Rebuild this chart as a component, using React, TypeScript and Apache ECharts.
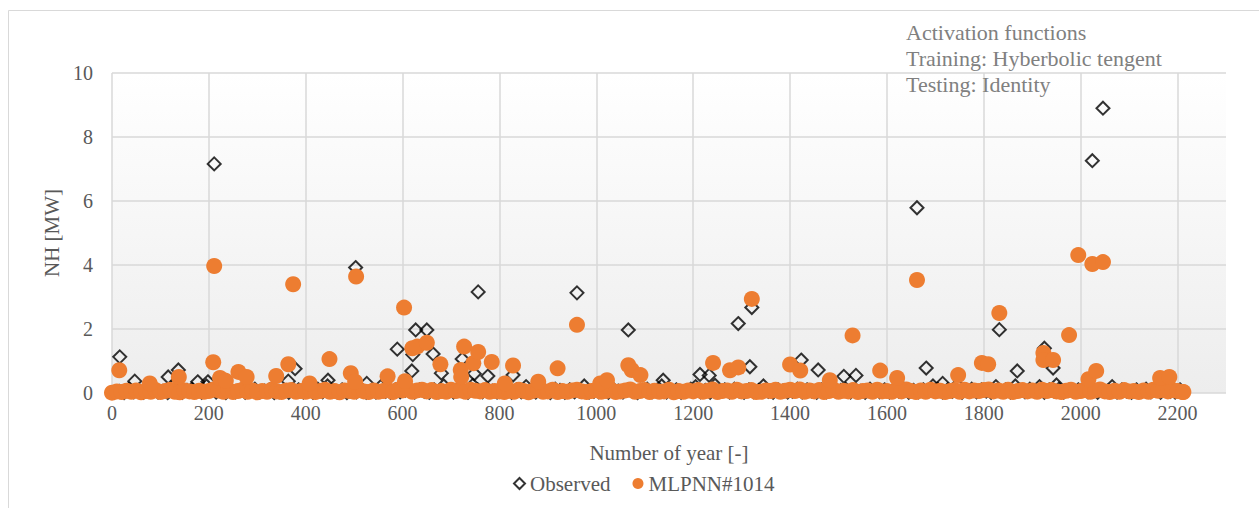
import React, { useEffect, useRef } from "react";
import * as echarts from "echarts";

// x-axis ticks (years) and y-axis ticks (MW)
const xTicks = [0, 200, 400, 600, 800, 1000, 1200, 1400, 1600, 1800, 2000, 2200];
const yTicks = [0, 2, 4, 6, 8, 10];

// Near-zero band of observed values (one every 10 years, starting at year 5)
const observedBase = [
  0.02, 0.05, 0.01, 0.12, 0.04, 0.08, 0.02, 0.06, 0.1, 0.03, 0.05, 0.01, 0.2, 0.04, 0.02, 0.08, 0.12, 0.05, 0.02, 0.22,
  0.1, 0.03, 0.06, 0.01, 0.1, 0.04, 0.08, 0.02, 0.05, 0.12, 0.03, 0.06, 0.1, 0.01, 0.04, 0.08, 0.02, 0.05, 0.1, 0.03,
  0.06, 0.02, 0.12, 0.04, 0.22, 0.05, 0.03, 0.1, 0.01, 0.08, 0.04, 0.12, 0.02, 0.06, 0.03, 0.2, 0.05, 0.02, 0.1, 0.04,
  0.08, 0.12, 0.03, 0.1, 0.05, 0.02, 0.1, 0.04, 0.22, 0.06, 0.03, 0.12, 0.05, 0.02, 0.24, 0.1, 0.04, 0.12, 0.06, 0.03,
  0.05, 0.12, 0.02, 0.1, 0.04, 0.2, 0.06, 0.03, 0.1, 0.05, 0.01, 0.12, 0.08, 0.02, 0.1, 0.04, 0.06, 0.22, 0.03, 0.05,
  0.04, 0.1, 0.02, 0.12, 0.06, 0.03, 0.1, 0.05, 0.01, 0.08, 0.12, 0.04, 0.08, 0.22, 0.03, 0.06, 0.1, 0.02, 0.05, 0.12,
  0.2, 0.04, 0.08, 0.02, 0.24, 0.05, 0.1, 0.03, 0.12, 0.06, 0.02, 0.1, 0.04, 0.08, 0.22, 0.05, 0.02, 0.1, 0.06, 0.03,
  0.05, 0.12, 0.03, 0.1, 0.06, 0.02, 0.1, 0.04, 0.2, 0.05, 0.08, 0.12, 0.03, 0.1, 0.05, 0.02, 0.12, 0.06, 0.04, 0.1,
  0.03, 0.1, 0.05, 0.12, 0.02, 0.08, 0.04, 0.1, 0.06, 0.22, 0.12, 0.03, 0.1, 0.05, 0.24, 0.02, 0.08, 0.12, 0.04, 0.1,
  0.06, 0.02, 0.2, 0.05, 0.1, 0.03, 0.22, 0.08, 0.04, 0.12, 0.05, 0.2, 0.02, 0.1, 0.06, 0.12, 0.03, 0.08, 0.05, 0.1,
  0.12, 0.04, 0.1, 0.02, 0.08, 0.05, 0.2, 0.03, 0.1, 0.06, 0.02, 0.1, 0.05, 0.12, 0.04, 0.08, 0.02, 0.1, 0.05, 0.03,
  0.1,
];

// Observed values that stand out of the band: [year, NH]
const observedPeaks: [number, number][] = [
  [16, 1.13], [47, 0.37], [116, 0.5], [137, 0.72], [177, 0.35], [198, 0.35], [211, 7.16],
  [364, 0.37], [378, 0.76], [446, 0.4], [503, 3.92], [526, 0.3], [589, 1.37], [619, 0.69],
  [621, 1.2], [627, 1.97], [650, 1.97], [663, 1.22], [680, 0.62], [723, 1.06], [748, 0.6],
  [756, 3.16], [776, 0.53], [828, 0.56], [960, 3.13], [1066, 1.97], [1138, 0.4], [1214, 0.58],
  [1233, 0.55], [1293, 2.17], [1317, 0.82], [1321, 2.67], [1423, 1.03], [1458, 0.72],
  [1511, 0.52], [1536, 0.55], [1662, 5.79], [1681, 0.78], [1715, 0.3], [1832, 1.98],
  [1869, 0.69], [1925, 1.4], [1943, 0.78], [1950, 0.25], [2024, 7.26], [2046, 8.9],
];

// Near-zero band of predicted values (one every 10 years, starting at year 0)
const predictedBase = [
  0.01, 0.05, 0.03, 0.07, 0.04, 0.08, 0.02, 0.06, 0.04, 0.09, 0.03, 0.06, 0.1, 0.04, 0.02, 0.08, 0.05, 0.03, 0.07, 0.04,
  0.06, 0.11, 0.08, 0.04, 0.09, 0.03, 0.06, 0.1, 0.04, 0.08, 0.02, 0.06, 0.04, 0.1, 0.05, 0.03, 0.08, 0.09, 0.04, 0.06,
  0.04, 0.08, 0.03, 0.06, 0.1, 0.04, 0.06, 0.02, 0.08, 0.06, 0.04, 0.1, 0.05, 0.03, 0.08, 0.04, 0.06, 0.09, 0.03, 0.1,
  0.08, 0.12, 0.04, 0.08, 0.1, 0.05, 0.09, 0.03, 0.06, 0.04, 0.1, 0.06, 0.08, 0.04, 0.1, 0.07, 0.05, 0.09, 0.04, 0.06,
  0.05, 0.03, 0.08, 0.04, 0.1, 0.06, 0.02, 0.07, 0.09, 0.04, 0.05, 0.1, 0.03, 0.06, 0.04, 0.08, 0.1, 0.05, 0.03, 0.06,
  0.09, 0.04, 0.06, 0.1, 0.03, 0.05, 0.08, 0.11, 0.04, 0.06, 0.09, 0.03, 0.07, 0.04, 0.05, 0.1, 0.02, 0.06, 0.04, 0.08,
  0.05, 0.09, 0.04, 0.07, 0.11, 0.03, 0.06, 0.08, 0.04, 0.1, 0.05, 0.06, 0.09, 0.03, 0.04, 0.08, 0.06, 0.1, 0.04, 0.07,
  0.1, 0.06, 0.11, 0.04, 0.08, 0.05, 0.09, 0.03, 0.06, 0.1, 0.04, 0.07, 0.05, 0.09, 0.03, 0.06, 0.08, 0.04, 0.1, 0.05,
  0.06, 0.04, 0.09, 0.05, 0.11, 0.06, 0.03, 0.08, 0.04, 0.1, 0.05, 0.07, 0.03, 0.06, 0.09, 0.04, 0.1, 0.05, 0.08, 0.06,
  0.09, 0.11, 0.05, 0.08, 0.04, 0.1, 0.03, 0.06, 0.09, 0.05, 0.08, 0.04, 0.1, 0.06, 0.09, 0.05, 0.03, 0.07, 0.1, 0.04,
  0.06, 0.09, 0.04, 0.08, 0.11, 0.05, 0.03, 0.07, 0.04, 0.09, 0.05, 0.06, 0.03, 0.08, 0.04, 0.1, 0.07, 0.1, 0.05, 0.09,
  0.06, 0.03,
];

// Predicted values that stand out of the band: [year, NH]
const predictedPeaks: [number, number][] = [
  [15, 0.71], [78, 0.3], [138, 0.5], [209, 0.96], [211, 3.97], [223, 0.47], [235, 0.38],
  [261, 0.66], [278, 0.5], [339, 0.53], [364, 0.9], [374, 3.4], [408, 0.3], [449, 1.06],
  [493, 0.62], [502, 0.35], [504, 3.64], [569, 0.52], [603, 2.67], [605, 0.37], [620, 1.4],
  [630, 1.45], [650, 1.57], [678, 0.9], [720, 0.72], [721, 0.5], [727, 1.45], [746, 0.93],
  [756, 1.28], [784, 0.97], [811, 0.3], [828, 0.86], [880, 0.35], [920, 0.77], [960, 2.13],
  [1008, 0.3], [1022, 0.4], [1066, 0.87], [1073, 0.72], [1091, 0.56], [1241, 0.94],
  [1276, 0.71], [1293, 0.8], [1321, 2.94], [1400, 0.89], [1421, 0.7], [1482, 0.4],
  [1529, 1.8], [1586, 0.7], [1621, 0.47], [1662, 3.53], [1747, 0.56], [1796, 0.94],
  [1809, 0.9], [1832, 2.5], [1923, 1.25], [1923, 1.03], [1943, 1.03], [1976, 1.81],
  [1995, 4.31], [2016, 0.43], [2024, 4.03], [2032, 0.69], [2046, 4.09], [2164, 0.47],
  [2183, 0.5], [2212, 0.03],
];

const seriesNames = ["Observed", "MLPNN#1014"];
const annotationLines = ["Activation functions", "Training: Hyberbolic tengent", "Testing: Identity"];
const xTitle = "Number of year [-]";
const yTitle = "NH [MW]";

const FONT = "Liberation Serif";
const LABEL = "#595959";

export default function App() {
  const ref = useRef<HTMLDivElement>(null);

  useEffect(() => {
    if (!ref.current) return;
    const chart = echarts.init(ref.current, undefined, { renderer: "svg" });

    const observedData = [
      ...observedBase.map((v, i) => [5 + i * 10, v]),
      ...observedPeaks,
    ];
    const predictedData = [
      ...predictedBase.map((v, i) => [i * 10, v]),
      ...predictedPeaks,
    ];

    const xMax = 2300;
    const gridColors = [...xTicks.map(() => "#d9d9d9"), "rgba(0,0,0,0)"];

    chart.setOption({
      animation: false,
      backgroundColor: "#ffffff",
      textStyle: { fontFamily: FONT },
      grid: {
        left: 112,
        right: 33,
        top: 73,
        bottom: 115,
        show: true,
        borderWidth: 0,
        backgroundColor: {
          type: "linear",
          x: 0, y: 0, x2: 0, y2: 1,
          colorStops: [
            { offset: 0, color: "#ffffff" },
            { offset: 1, color: "#ededed" },
          ],
        },
        outerBoundsMode: "none",
      },
      graphic: [
        {
          type: "rect",
          shape: { x: 8.5, y: 10.5, width: 1400, height: 700 },
          style: { fill: "none", stroke: "#d9d9d9", lineWidth: 1 },
          silent: true,
          z: -10,
        },
        {
          type: "text",
          left: 906,
          top: 19,
          style: {
            text: annotationLines.join("\n"),
            font: `22px ${FONT}`,
            fill: "#808080",
            lineHeight: 26,
          },
          z: 100,
        },
      ],
      legend: {
        left: 508,
        top: 468,
        itemWidth: 11,
        itemHeight: 11,
        itemGap: 22,
        textStyle: { fontFamily: FONT, fontSize: 21, color: LABEL },
        data: seriesNames,
      },
      xAxis: {
        type: "value",
        min: 0,
        max: xMax,
        interval: 200,
        name: xTitle,
        nameLocation: "middle",
        nameGap: 49,
        nameTextStyle: { fontFamily: FONT, fontSize: 21, color: LABEL },
        axisLine: { show: false },
        axisTick: { show: false },
        axisLabel: {
          fontFamily: FONT,
          fontSize: 20,
          color: LABEL,
          margin: 10,
          formatter: (v: number) => (xTicks.includes(v) ? String(v) : ""),
        },
        splitLine: { show: true, lineStyle: { color: gridColors, width: 1.5 } },
      },
      yAxis: {
        type: "value",
        min: yTicks[0],
        max: yTicks[yTicks.length - 1],
        interval: 2,
        name: yTitle,
        nameLocation: "middle",
        nameGap: 45,
        nameTextStyle: { fontFamily: FONT, fontSize: 21, color: LABEL },
        axisLine: { show: false },
        axisTick: { show: false },
        axisLabel: { fontFamily: FONT, fontSize: 20, color: LABEL, margin: 19 },
        splitLine: { show: true, lineStyle: { color: "#d9d9d9", width: 1.5 } },
      },
      series: [
        {
          name: seriesNames[0],
          type: "scatter",
          symbol: "diamond",
          symbolSize: 13,
          itemStyle: { color: "rgba(255,255,255,0)", borderColor: "#000000", borderWidth: 2 },
          data: observedData,
          z: 2,
        },
        {
          name: seriesNames[1],
          type: "scatter",
          symbol: "circle",
          symbolSize: 16,
          itemStyle: { color: "#ED7D31", opacity: 1 },
          data: predictedData,
          z: 3,
        },
      ],
    });

    return () => chart.dispose();
  }, []);

  return (
    <div
      ref={ref}
      style={{ position: "fixed", left: 0, top: 0, width: 1259, height: 508 }}
    />
  );
}
